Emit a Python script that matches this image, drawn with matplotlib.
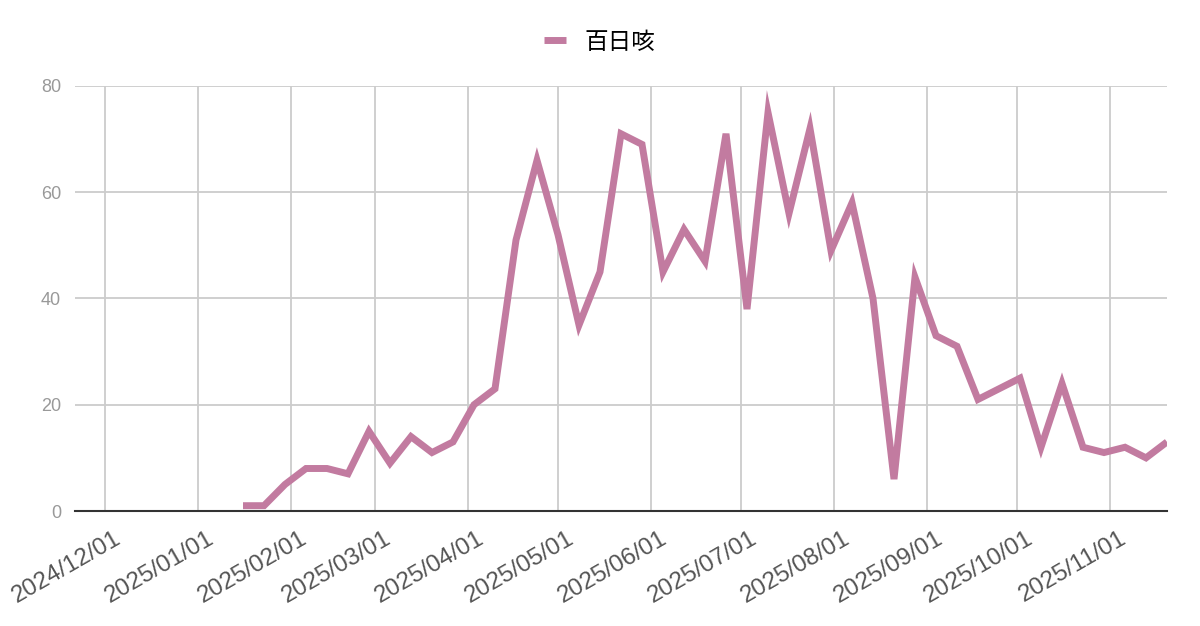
import matplotlib
matplotlib.use('Agg')
import matplotlib.pyplot as plt
import matplotlib.dates as mdates
import matplotlib.transforms as mtransforms
import pandas as pd

plt.rcParams['font.family'] = ['Liberation Sans', 'Noto Sans CJK JP', 'DejaVu Sans']

# weekly counts
start_date = '2025-01-16'
counts = [1, 1, 5, 8, 8, 7, 15, 9, 14, 11, 13, 20, 23,
          51, 66, 52, 35, 45, 71, 69, 45, 53, 47, 71, 38, 75, 56, 72, 49,
          58, 40, 6, 44, 33, 31, 21, 23, 25, 12, 24, 12, 11, 12, 10, 13]
series_name = '百日咳'
month_ticks = pd.date_range('2024-12-01', '2025-11-01', freq='MS')
y_ticks = [0, 20, 40, 60, 80]

dates = pd.date_range(start_date, periods=len(counts), freq='7D')

fig = plt.figure(figsize=(12, 6.26), dpi=100)
ax = fig.add_axes([0.0625, 0.1837, 0.91, 0.679])

ax.plot(dates, counts, color='#c27ba0', lw=5, solid_joinstyle='miter',
        solid_capstyle='butt', label=series_name, zorder=3)

ax.set_xlim(pd.Timestamp('2024-11-21'), dates[-1])
ax.set_ylim(0, 80)
ax.set_yticks(y_ticks)
ax.set_xticks(month_ticks)
ax.xaxis.set_major_formatter(mdates.DateFormatter('%Y/%m/%d'))

ax.grid(True, color='#cccccc', lw=1.3)
for s in ['top', 'right', 'left']:
    ax.spines[s].set_visible(False)
ax.spines['bottom'].set_color('#333333')
ax.spines['bottom'].set_linewidth(1.5)
ax.spines['bottom'].set_zorder(4)

ax.tick_params(axis='y', length=0, pad=10, labelsize=13, labelcolor='#999999')
ax.tick_params(axis='x', length=0, pad=12, labelsize=17.5, labelcolor='#555555')
shift = mtransforms.ScaledTranslation(9 / 100, 0, fig.dpi_scale_trans)
for lbl in ax.get_xticklabels():
    lbl.set_rotation(30)
    lbl.set_ha('right')
    lbl.set_va('top')
    lbl.set_rotation_mode('anchor')
    lbl.set_transform(lbl.get_transform() + shift)

fig.legend(loc='center', bbox_to_anchor=(0.5, 0.932), frameon=False,
           fontsize=17, handlelength=0.9, handletextpad=0.8)

fig.savefig('out.png', dpi=100)
